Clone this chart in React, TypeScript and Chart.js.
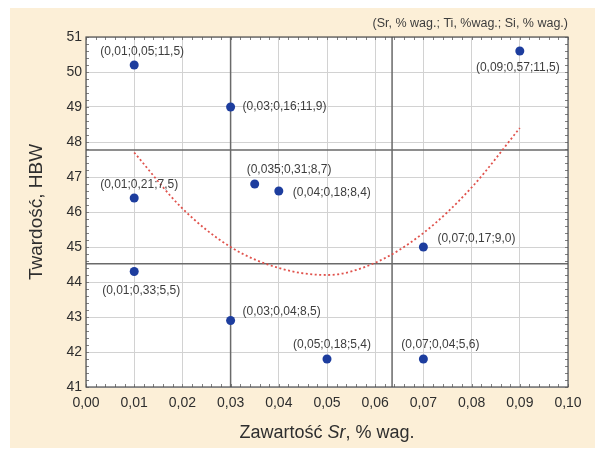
import React, { useEffect, useRef } from "react";
import { Chart, registerables } from "chart.js";

Chart.register(...registerables);

// ---- data ----
const srContent = [0.01, 0.03, 0.09, 0.035, 0.04, 0.01, 0.07, 0.01, 0.03, 0.05, 0.07];
const hardness = [50.2, 49.0, 50.6, 46.8, 46.6, 46.4, 45.0, 44.3, 42.9, 41.8, 41.8];
const sampleLabels = [
  "(0,01;0,05;11,5)",
  "(0,03;0,16;11,9)",
  "(0,09;0,57;11,5)",
  "(0,035;0,31;8,7)",
  "(0,04;0,18;8,4)",
  "(0,01;0,21;7,5)",
  "(0,07;0,17;9,0)",
  "(0,01;0,33;5,5)",
  "(0,03;0,04;8,5)",
  "(0,05;0,18;5,4)",
  "(0,07;0,04;5,6)",
];
const fitSr = [0.01, 0.02, 0.03, 0.04, 0.05, 0.06, 0.07, 0.08, 0.09];
const fitHardness = [47.7, 46.1, 45.0, 44.4, 44.2, 44.55, 45.4, 46.7, 48.4];
const refSr = [0.03, 0.0635];
const refHardness = [47.77, 44.52];
const xTickValues = [0, 0.01, 0.02, 0.03, 0.04, 0.05, 0.06, 0.07, 0.08, 0.09, 0.1];
const yTickValues = [41, 42, 43, 44, 45, 46, 47, 48, 49, 50, 51];
const noteText = "(Sr, % wag.; Ti, %wag.; Si, % wag.)";
const xTitleParts = ["Zawartość ", "Sr", ", % wag."];
const yTitle = "Twardość, HBW";

// label placement style: [align, dx, dy]
const labelPlacement: [CanvasTextAlign, number, number][] = [
  ["center", 8, -13],
  ["left", 12, 0],
  ["center", -2, 17],
  ["left", -8, -14],
  ["left", 14, 2],
  ["center", 5, -13],
  ["left", 14, -8],
  ["center", 7, 19],
  ["left", 12, -9],
  ["center", 5, -14],
  ["center", 17, -14],
];

const FONT = "'Liberation Sans', Arial, sans-serif";

const decorPlugin = {
  id: "decor",
  beforeDraw(chart: any) {
    const { ctx, chartArea: a } = chart;
    ctx.save();
    ctx.fillStyle = "#ffffff";
    ctx.fillRect(0, 0, chart.width, chart.height);
    ctx.fillStyle = "#fcefd7";
    ctx.fillRect(10, 8, chart.width - 10, chart.height - 10);
    ctx.fillStyle = "#ffffff";
    ctx.fillRect(a.left, a.top, a.right - a.left, a.bottom - a.top);
    ctx.restore();
  },
  beforeDatasetsDraw(chart: any) {
    const { ctx, chartArea: a, scales } = chart;
    const xs = scales.x;
    const ys = scales.y;
    ctx.save();
    // minor ticks
    ctx.strokeStyle = "#808080";
    ctx.lineWidth = 1;
    ctx.beginPath();
    for (let k = 0; k <= 50; k++) {
      const px = Math.round(xs.getPixelForValue(k * 0.002)) + 0.5;
      ctx.moveTo(px, a.top);
      ctx.lineTo(px, a.top + 3);
      ctx.moveTo(px, a.bottom);
      ctx.lineTo(px, a.bottom - 3);
    }
    for (let k = 0; k <= 50; k++) {
      const py = Math.round(ys.getPixelForValue(41 + k * 0.2)) + 0.5;
      ctx.moveTo(a.left, py);
      ctx.lineTo(a.left + 3, py);
      ctx.moveTo(a.right, py);
      ctx.lineTo(a.right - 3, py);
    }
    ctx.stroke();
    // reference lines
    ctx.strokeStyle = "#6a6a6a";
    ctx.lineWidth = 1.5;
    ctx.beginPath();
    refSr.forEach((v) => {
      const px = xs.getPixelForValue(v);
      ctx.moveTo(px, a.top);
      ctx.lineTo(px, a.bottom);
    });
    refHardness.forEach((v) => {
      const py = ys.getPixelForValue(v);
      ctx.moveTo(a.left, py);
      ctx.lineTo(a.right, py);
    });
    ctx.stroke();
    // border
    ctx.strokeStyle = "#505050";
    ctx.lineWidth = 1.2;
    ctx.strokeRect(a.left, a.top, a.right - a.left, a.bottom - a.top);
    ctx.restore();
  },
  afterDraw(chart: any) {
    const { ctx, chartArea: a, scales } = chart;
    const xs = scales.x;
    const ys = scales.y;
    ctx.save();
    // point labels
    ctx.fillStyle = "#3d3d3d";
    ctx.font = `12px ${FONT}`;
    ctx.textBaseline = "middle";
    sampleLabels.forEach((t, i) => {
      const [align, dx, dy] = labelPlacement[i];
      ctx.textAlign = align;
      ctx.fillText(t, xs.getPixelForValue(srContent[i]) + dx, ys.getPixelForValue(hardness[i]) + dy);
    });
    // note top-right
    ctx.font = `12.5px ${FONT}`;
    ctx.textAlign = "right";
    ctx.fillStyle = "#3d3d3d";
    ctx.fillText(noteText, a.right, 24);
    // x title with italic Sr
    ctx.fillStyle = "#2e2e2e";
    const fonts = [`18px ${FONT}`, `italic 18px ${FONT}`, `18px ${FONT}`];
    let total = 0;
    const widths = xTitleParts.map((p, i) => {
      ctx.font = fonts[i];
      const w = ctx.measureText(p).width;
      total += w;
      return w;
    });
    let x0 = (a.left + a.right) / 2 - total / 2;
    ctx.textAlign = "left";
    xTitleParts.forEach((p, i) => {
      ctx.font = fonts[i];
      ctx.fillText(p, x0, 433);
      x0 += widths[i];
    });
    // y title
    ctx.font = `19px ${FONT}`;
    ctx.textAlign = "center";
    ctx.translate(37, (a.top + a.bottom) / 2);
    ctx.rotate(-Math.PI / 2);
    ctx.fillText(yTitle, 0, 0);
    ctx.restore();
  },
};

const fmt = (v: number, d: number) => v.toFixed(d).replace(".", ",");

export default function App() {
  const ref = useRef<HTMLCanvasElement | null>(null);
  useEffect(() => {
    if (!ref.current) return;
    const chart = new Chart(ref.current, {
      type: "scatter",
      data: {
        datasets: [
          {
            type: "line",
            data: fitSr.map((x, i) => ({ x, y: fitHardness[i] })),
            borderColor: "#e0524c",
            borderWidth: 1.8,
            borderDash: [2, 2.5],
            pointRadius: 0,
            cubicInterpolationMode: "monotone",
            fill: false,
          } as any,
          {
            data: srContent.map((x, i) => ({ x, y: hardness[i] })),
            backgroundColor: "#1d3d9e",
            borderColor: "#1d3d9e",
            pointRadius: 4.5,
            borderWidth: 0,
          },
        ],
      },
      options: {
        responsive: false,
        animation: false,
        events: [],
        layout: { padding: { left: 10, top: 37, right: 27, bottom: 8 } },
        plugins: { legend: { display: false }, tooltip: { enabled: false } },
        scales: {
          x: {
            type: "linear",
            min: 0,
            max: 0.1,
            afterBuildTicks: (s: any) => {
              s.ticks = xTickValues.map((value) => ({ value }));
            },
            afterFit: (s: any) => {
              s.height = 55;
            },
            ticks: {
              autoSkip: false,
              maxRotation: 0,
              padding: 8,
              color: "#2e2e2e",
              font: { family: FONT, size: 14 },
              callback: (v: any) => fmt(Number(v), 2),
            },
            grid: { color: "#d2d2d2", lineWidth: 1, drawTicks: false },
            border: { display: false },
          },
          y: {
            type: "linear",
            min: 41,
            max: 51,
            afterBuildTicks: (s: any) => {
              s.ticks = yTickValues.map((value) => ({ value }));
            },
            afterFit: (s: any) => {
              s.width = 76;
            },
            ticks: {
              padding: 4,
              color: "#2e2e2e",
              font: { family: FONT, size: 14 },
              callback: (v: any) => String(v),
            },
            grid: { color: "#d2d2d2", lineWidth: 1, drawTicks: false },
            border: { display: false },
          },
        },
      } as any,
      plugins: [decorPlugin],
    });
    return () => chart.destroy();
  }, []);
  return (
    <div style={{ position: "fixed", left: 0, top: 0, width: 595, height: 450 }}>
      <canvas ref={ref} width={595} height={450} style={{ width: 595, height: 450 }} />
    </div>
  );
}
